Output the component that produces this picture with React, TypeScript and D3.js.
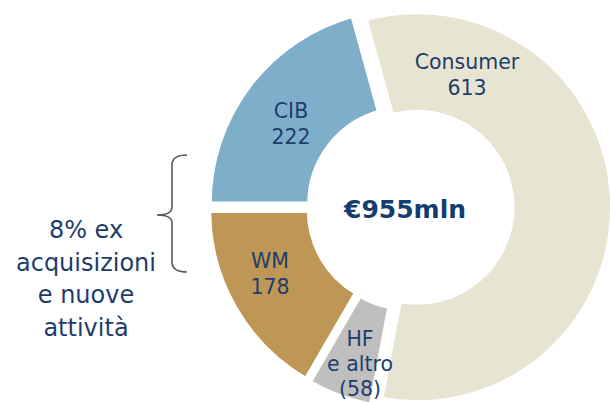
import React from "react";
import * as d3 from "d3";

// ---- data ----
const categories = ["Consumer", "HF e altro", "WM", "CIB"];
const values = [613, -58, 178, 222];
const valueLabels = ["613", "(58)", "178", "222"];
const labelLines = [["Consumer"], ["HF", "e altro"], ["WM"], ["CIB"]];
const totalLabel = "€955mln";
const noteLines = ["8% ex", "acquisizioni", "e nuove", "attività"];

// ---- style / layout ----
const W = 610;
const H = 402;
const colors = ["#E8E4D2", "#BFBFBF", "#BE9655", "#7FAECB"];
const explode = [7.5, 6, 6, 6];
const cx = 409.5;
const cy = 207.5;
const rInner = 95;
const rOuter = 195.5;
const startDeg = -15.4;
const labelPos: [number, number][] = [
  [467, 69],
  [360, 346],
  [270, 268],
  [291, 118],
];
const lineHs = [26, 25, 26, 26];
const textColor = "#1F3D6B";
const font = "'DejaVu Sans', sans-serif";

export default function App() {
  const start = (startDeg * Math.PI) / 180;
  const pie = d3
    .pie<number>()
    .sort(null)
    .value((d) => Math.abs(d))
    .startAngle(start)
    .endAngle(start + 2 * Math.PI);
  const arcs = pie(values);
  const arc = d3.arc<d3.PieArcDatum<number>>().innerRadius(rInner).outerRadius(rOuter);

  // brace
  const bx = 172, bt = 155, bb = 272, bm = 215, tip = 157, hook = 187;
  const brace = `M${hook},${bt} Q${bx},${bt} ${bx},${bt + 10} L${bx},${bm - 8} Q${bx},${bm} ${tip},${bm} Q${bx},${bm} ${bx},${bm + 8} L${bx},${bb - 10} Q${bx},${bb} ${hook},${bb}`;

  return (
    <svg
      width={W}
      height={H}
      style={{ position: "absolute", left: 0, top: 0, background: "#fff" }}
      fontFamily={font}
    >
      <g transform={`translate(${cx},${cy})`}>
        {arcs.map((a, i) => {
          const mid = (a.startAngle + a.endAngle) / 2;
          const dx = Math.sin(mid) * explode[i];
          const dy = -Math.cos(mid) * explode[i];
          return (
            <path
              key={categories[i]}
              d={arc(a) || ""}
              transform={`translate(${dx},${dy})`}
              fill={colors[i]}
              stroke="#fff"
              strokeWidth={5}
              strokeLinejoin="miter"
            />
          );
        })}
      </g>
      {categories.map((c, i) => {
        const lines = [...labelLines[i], valueLabels[i]];
        const [x, y] = labelPos[i];
        return (
          <text key={c} x={x} y={y} textAnchor="middle" fontSize={20.5} fill={textColor}>
            {lines.map((l, j) => (
              <tspan key={j} x={x} y={y + j * lineHs[i]}>
                {l}
              </tspan>
            ))}
          </text>
        );
      })}
      <text
        x={405}
        y={217.5}
        textAnchor="middle"
        fontSize={25}
        fontWeight="bold"
        fill="#123D6E"
      >
        {totalLabel}
      </text>
      <path d={brace} fill="none" stroke="#595959" strokeWidth={1.6} />
      <text textAnchor="middle" fontSize={24} fill={textColor}>
        {noteLines.map((l, j) => (
          <tspan key={j} x={86} y={238 + j * 32.5}>
            {l}
          </tspan>
        ))}
      </text>
    </svg>
  );
}
